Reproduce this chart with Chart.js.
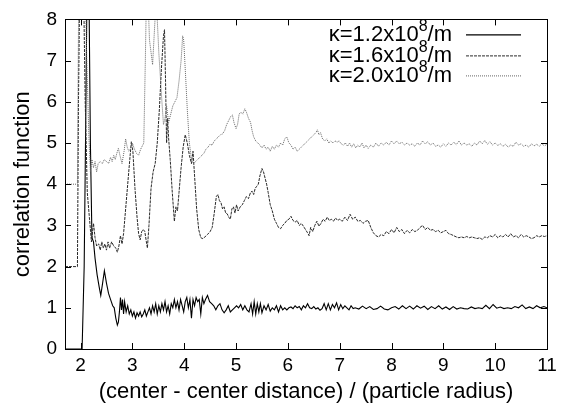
<!DOCTYPE html>
<html>
<head>
<meta charset="utf-8">
<script src="https://cdn.jsdelivr.net/npm/chart.js@4/dist/chart.umd.min.js"></script>
<style>
html,body{margin:0;padding:0;background:#fff;}
#wrap{width:564px;height:405px;position:relative;}
</style>
</head>
<body>
<div id="wrap"><canvas id="c"></canvas></div>
<script>
// ---- Data (x = center-center distance / particle radius, y = correlation function) ----
const seriesNames = ["κ=1.2x10", "κ=1.6x10", "κ=2.0x10"];
const xTicks = [2,3,4,5,6,7,8,9,10,11];
const yTicks = [0,1,2,3,4,5,6,7,8];

const k12 = [[1.7,0],[2.03,0],[2.07,2.0],[2.1,5.5],[2.13,9.5],[2.16,9.0],[2.19,5.0],[2.22,2.7],[2.25,2.6],[2.28,2.2],[2.32,1.8],[2.36,1.5],[2.39,1.3],[2.42,1.55],[2.46,1.9],[2.5,1.6],[2.54,1.35],[2.58,1.2],[2.62,1.05],[2.65,1.0],[2.68,0.75],[2.71,0.58],[2.73,0.65],[2.75,0.9],[2.77,1.25],[2.79,0.95],[2.81,1.2],[2.83,0.85],[2.85,1.15],[2.88,0.9],[2.91,1.05],[2.94,0.85],[2.97,0.95],[3.0,0.8],[3.03,0.9],[3.06,0.75],[3.09,0.88],[3.12,0.8],[3.15,0.9],[3.18,0.78],[3.21,0.85],[3.24,0.95],[3.27,0.8],[3.3,0.9],[3.33,1.0],[3.36,0.85],[3.39,1.05],[3.42,0.9],[3.45,1.1],[3.48,0.85],[3.51,1.05],[3.54,0.9],[3.57,1.1],[3.6,0.95],[3.63,1.15],[3.66,0.9],[3.69,1.05],[3.72,0.85],[3.75,1.1],[3.78,1.0],[3.81,1.2],[3.84,1.0],[3.87,1.15],[3.9,0.95],[3.93,1.2],[3.96,1.05],[3.99,0.9],[4.02,1.15],[4.05,1.25],[4.08,1.0],[4.11,1.2],[4.14,0.75],[4.17,1.2],[4.2,1.05],[4.23,1.25],[4.26,1.15],[4.29,1.2],[4.32,0.85],[4.35,1.25],[4.38,1.1],[4.41,1.2],[4.45,1.3],[4.49,1.15],[4.53,1.1],[4.57,1.05],[4.61,0.95],[4.65,1.05],[4.69,1.1],[4.73,0.95],[4.77,0.88],[4.81,0.95],[4.85,1.05],[4.89,0.9],[4.93,0.95],[4.97,1.0],[5.01,1.05],[5.05,1.0],[5.09,1.08],[5.13,0.95],[5.17,1.05],[5.21,0.95],[5.25,0.9],[5.29,1.1],[5.32,0.85],[5.35,1.15],[5.38,0.85],[5.41,1.1],[5.44,0.9],[5.47,1.1],[5.5,0.88],[5.54,1.05],[5.58,0.95],[5.62,1.08],[5.66,0.92],[5.7,1.0],[5.74,0.95],[5.78,1.05],[5.82,0.9],[5.86,1.05],[5.9,0.95],[5.94,1.0],[5.98,0.95],[6.02,1.0],[6.06,1.02],[6.1,0.98],[6.14,1.05],[6.18,1.0],[6.22,1.03],[6.26,0.95],[6.3,1.05],[6.34,1.0],[6.38,1.1],[6.42,1.0],[6.46,0.98],[6.5,1.03],[6.54,0.97],[6.58,1.0],[6.62,0.94],[6.66,0.98],[6.7,1.1],[6.74,0.95],[6.78,1.1],[6.82,0.95],[6.86,1.08],[6.9,1.0],[6.94,1.12],[6.98,0.95],[7.02,1.08],[7.06,0.98],[7.1,1.05],[7.14,1.0],[7.18,0.95],[7.22,1.05],[7.26,0.98],[7.3,1.0],[7.37,0.97],[7.44,1.04],[7.51,0.98],[7.58,1.03],[7.65,0.96],[7.72,0.98],[7.79,1.04],[7.86,0.97],[7.93,0.95],[8.0,1.0],[8.07,1.03],[8.14,0.97],[8.21,1.05],[8.28,0.98],[8.35,1.04],[8.42,0.97],[8.49,1.05],[8.56,0.99],[8.63,1.04],[8.7,0.96],[8.77,1.03],[8.84,0.98],[8.91,1.05],[8.98,0.97],[9.05,1.02],[9.12,0.96],[9.19,1.03],[9.26,0.97],[9.33,1.0],[9.4,0.98],[9.47,0.97],[9.54,1.02],[9.61,0.98],[9.68,1.0],[9.75,0.98],[9.82,1.06],[9.89,0.98],[9.96,1.08],[10.03,0.99],[10.1,1.02],[10.17,0.98],[10.24,1.0],[10.31,0.98],[10.38,1.03],[10.45,1.0],[10.52,1.07],[10.59,0.98],[10.66,1.02],[10.73,0.98],[10.8,1.05],[10.87,1.0],[10.94,1.03],[11.0,1.0]];

const k16 = [[1.7,2],[1.94,2],[1.96,6],[1.99,9.5],[2.05,9.5],[2.09,6],[2.13,3.8],[2.17,3.2],[2.21,2.6],[2.25,3.05],[2.28,2.7],[2.31,2.5],[2.35,2.55],[2.38,2.4],[2.41,2.6],[2.44,2.45],[2.47,2.55],[2.5,2.4],[2.53,2.6],[2.56,2.45],[2.6,2.6],[2.64,2.5],[2.68,2.45],[2.71,2.35],[2.74,2.5],[2.77,2.75],[2.8,2.55],[2.83,2.8],[2.87,3.4],[2.91,4.0],[2.95,4.6],[2.98,5.03],[3.01,4.8],[3.05,3.9],[3.09,3.2],[3.12,2.8],[3.15,2.65],[3.18,2.85],[3.21,2.9],[3.24,2.85],[3.27,2.6],[3.29,2.45],[3.32,3.0],[3.36,3.9],[3.4,4.3],[3.44,4.5],[3.48,5.0],[3.52,5.8],[3.56,6.8],[3.6,7.6],[3.62,7.75],[3.64,6.5],[3.66,5.0],[3.68,5.6],[3.7,5.1],[3.73,4.6],[3.77,3.8],[3.81,3.1],[3.84,3.45],[3.87,3.35],[3.9,3.8],[3.94,4.4],[3.98,4.9],[4.02,5.2],[4.06,5.0],[4.1,4.7],[4.14,4.5],[4.17,4.8],[4.2,4.2],[4.24,3.4],[4.28,2.9],[4.32,2.7],[4.36,2.68],[4.4,2.72],[4.45,2.78],[4.5,2.85],[4.54,2.95],[4.58,3.3],[4.62,3.7],[4.65,3.75],[4.68,3.6],[4.71,3.55],[4.74,3.4],[4.77,3.45],[4.8,3.3],[4.83,3.28],[4.86,3.2],[4.89,3.15],[4.92,3.4],[4.95,3.45],[4.98,3.3],[5.01,3.5],[5.04,3.35],[5.08,3.45],[5.12,3.5],[5.16,3.6],[5.2,3.7],[5.24,3.65],[5.28,3.8],[5.31,3.83],[5.34,3.75],[5.37,3.9],[5.4,3.95],[5.43,4.0],[5.46,4.2],[5.5,4.38],[5.53,4.3],[5.56,4.15],[5.59,4.0],[5.62,3.8],[5.66,3.5],[5.7,3.35],[5.74,3.15],[5.78,3.05],[5.82,2.95],[5.86,2.92],[5.9,3.0],[5.94,3.05],[5.98,3.12],[6.02,3.15],[6.06,3.22],[6.1,3.12],[6.14,3.08],[6.18,3.12],[6.22,3.0],[6.26,3.05],[6.3,2.98],[6.34,2.9],[6.38,2.82],[6.41,2.75],[6.44,2.95],[6.48,2.85],[6.52,3.0],[6.56,3.1],[6.6,2.98],[6.64,3.05],[6.68,3.15],[6.72,3.1],[6.76,3.2],[6.8,3.12],[6.84,3.15],[6.88,3.1],[6.92,3.18],[6.96,3.12],[7.0,3.15],[7.05,3.1],[7.1,3.2],[7.15,3.12],[7.2,3.27],[7.25,3.15],[7.3,3.2],[7.35,3.1],[7.4,3.12],[7.45,3.05],[7.5,3.1],[7.55,3.12],[7.6,2.95],[7.65,2.82],[7.7,2.75],[7.75,2.72],[7.8,2.78],[7.85,2.75],[7.9,2.85],[7.95,2.8],[8.0,2.9],[8.05,2.82],[8.1,2.95],[8.15,2.85],[8.2,2.9],[8.25,2.8],[8.3,2.88],[8.35,2.82],[8.4,2.9],[8.45,2.85],[8.5,2.88],[8.55,2.95],[8.6,3.0],[8.65,2.9],[8.7,2.95],[8.75,2.88],[8.8,2.9],[8.85,2.85],[8.9,2.88],[8.95,2.82],[9.0,2.85],[9.05,2.88],[9.1,2.8],[9.15,2.78],[9.2,2.75],[9.25,2.72],[9.3,2.7],[9.35,2.72],[9.4,2.7],[9.45,2.73],[9.5,2.7],[9.55,2.72],[9.6,2.7],[9.65,2.68],[9.7,2.7],[9.75,2.66],[9.8,2.72],[9.85,2.7],[9.9,2.75],[9.95,2.72],[10.0,2.78],[10.05,2.7],[10.1,2.75],[10.15,2.72],[10.2,2.78],[10.25,2.72],[10.3,2.8],[10.35,2.72],[10.4,2.75],[10.45,2.7],[10.5,2.78],[10.55,2.72],[10.6,2.75],[10.65,2.72],[10.7,2.68],[10.75,2.7],[10.8,2.75],[10.85,2.72],[10.9,2.75],[10.95,2.73],[11.0,2.75]];

const k20 = [[1.7,4],[1.94,4],[1.95,6],[1.97,9.5],[2.08,9.5],[2.12,7],[2.16,5.2],[2.19,4.3],[2.22,4.6],[2.25,4.4],[2.28,4.55],[2.31,4.3],[2.34,4.5],[2.38,4.55],[2.42,4.5],[2.46,4.6],[2.5,4.55],[2.54,4.5],[2.58,4.65],[2.61,4.55],[2.64,4.7],[2.67,4.6],[2.7,4.75],[2.73,4.87],[2.76,4.7],[2.8,4.5],[2.84,4.8],[2.87,5.1],[2.9,4.9],[2.93,4.8],[2.96,4.85],[3.0,5.0],[3.04,4.85],[3.08,4.75],[3.12,4.7],[3.16,4.85],[3.2,4.95],[3.22,5.0],[3.25,7.0],[3.27,8.5],[3.3,8.6],[3.33,7.5],[3.36,7.2],[3.39,6.9],[3.42,7.6],[3.45,8.3],[3.48,8.0],[3.51,7.2],[3.54,6.6],[3.57,6.0],[3.6,5.45],[3.63,5.6],[3.66,5.9],[3.7,5.5],[3.74,5.7],[3.78,5.9],[3.82,6.0],[3.86,6.1],[3.9,6.5],[3.94,7.0],[3.97,7.6],[3.99,7.5],[4.02,6.8],[4.06,5.8],[4.1,5.0],[4.14,4.6],[4.18,4.5],[4.22,4.55],[4.26,4.6],[4.3,4.65],[4.34,4.7],[4.38,4.75],[4.42,4.85],[4.46,4.9],[4.5,4.97],[4.54,4.95],[4.58,5.05],[4.62,5.1],[4.66,5.15],[4.7,5.2],[4.74,5.22],[4.78,5.3],[4.82,5.45],[4.86,5.55],[4.9,5.65],[4.93,5.68],[4.96,5.5],[5.0,5.35],[5.03,5.45],[5.06,5.7],[5.09,5.75],[5.13,5.7],[5.17,5.83],[5.2,5.75],[5.24,5.6],[5.28,5.5],[5.31,5.3],[5.34,5.15],[5.38,5.05],[5.42,5.0],[5.46,4.95],[5.5,4.88],[5.54,4.95],[5.58,4.85],[5.62,4.9],[5.66,4.8],[5.7,4.92],[5.74,4.85],[5.78,4.95],[5.82,4.9],[5.86,5.0],[5.9,4.95],[5.94,5.1],[5.98,5.15],[6.02,5.0],[6.06,4.95],[6.1,4.85],[6.14,4.9],[6.18,4.8],[6.22,4.85],[6.26,4.9],[6.3,4.95],[6.34,5.0],[6.38,5.05],[6.42,5.1],[6.46,5.15],[6.5,5.2],[6.54,5.25],[6.57,5.32],[6.6,5.2],[6.63,5.25],[6.67,5.1],[6.71,5.05],[6.75,5.1],[6.79,5.0],[6.83,5.05],[6.87,5.0],[6.91,5.05],[6.95,5.02],[6.99,5.05],[7.03,4.98],[7.07,4.95],[7.11,5.0],[7.15,4.92],[7.19,5.0],[7.23,4.9],[7.27,4.98],[7.31,4.88],[7.35,4.95],[7.39,4.9],[7.43,5.0],[7.47,4.88],[7.51,4.95],[7.55,4.87],[7.6,4.95],[7.65,4.9],[7.7,5.0],[7.75,4.92],[7.8,5.0],[7.85,4.95],[7.9,5.02],[7.95,4.95],[8.0,5.05],[8.05,4.98],[8.1,5.05],[8.15,4.98],[8.2,5.02],[8.25,4.95],[8.3,5.0],[8.35,4.95],[8.4,4.98],[8.45,4.92],[8.5,5.0],[8.55,4.95],[8.6,5.05],[8.65,4.98],[8.7,5.03],[8.75,4.95],[8.8,5.0],[8.85,4.92],[8.9,4.95],[8.95,4.9],[9.0,4.98],[9.05,4.92],[9.1,5.0],[9.15,4.95],[9.2,5.02],[9.25,4.96],[9.3,5.05],[9.35,4.95],[9.4,5.0],[9.45,4.95],[9.5,4.98],[9.55,4.92],[9.6,5.0],[9.65,4.95],[9.7,5.05],[9.75,4.98],[9.8,5.06],[9.85,4.97],[9.9,5.03],[9.95,4.95],[10.0,5.0],[10.05,4.94],[10.1,4.98],[10.15,4.92],[10.2,4.97],[10.25,4.9],[10.3,4.95],[10.35,4.92],[10.4,5.02],[10.45,4.95],[10.5,4.98],[10.55,4.92],[10.6,4.95],[10.65,4.9],[10.7,4.98],[10.75,4.93],[10.8,4.97],[10.85,4.92],[10.9,4.98],[10.95,4.93],[11.0,4.97]];

const FONT = "'Liberation Sans', Arial, sans-serif";
const toPts = arr => arr.map(p => ({x: p[0], y: p[1]}));

const styles = [
  {color:'#000000', width:1.1, dash:[]},
  {color:'#2a2a2a', width:1, dash:[3,1]},
  {color:'#666666', width:1, dash:[1,1]}
];

// frame + inward ticks on all four sides (gnuplot style), plus legend
const framePlugin = {
  id: 'frame',
  afterDatasetsDraw(chart) {
    const {ctx, chartArea: a, scales: {x, y}} = chart;
    ctx.save();
    ctx.strokeStyle = '#000';
    ctx.lineWidth = 1;
    ctx.setLineDash([]);
    ctx.strokeRect(Math.round(a.left)+0.5, Math.round(a.top)+0.5, Math.round(a.right-a.left), Math.round(a.bottom-a.top));
    const L = 6;
    ctx.beginPath();
    xTicks.forEach(v => {
      const px = Math.round(x.getPixelForValue(v)) + 0.5;
      ctx.moveTo(px, a.bottom); ctx.lineTo(px, a.bottom - L);
      ctx.moveTo(px, a.top); ctx.lineTo(px, a.top + L);
    });
    yTicks.forEach(v => {
      const py = Math.round(y.getPixelForValue(v)) + 0.5;
      ctx.moveTo(a.left, py); ctx.lineTo(a.left + L, py);
      ctx.moveTo(a.right, py); ctx.lineTo(a.right - L, py);
    });
    ctx.stroke();

    const textRight = a.right - 95;
    const lineL = a.right - 81, lineR = a.right - 26;
    const rows = [a.top + 15, a.top + 36, a.top + 56];
    const big = '22px ' + FONT, small = '16px ' + FONT;
    seriesNames.forEach((name, i) => {
      const yy = rows[i];
      ctx.font = big;
      const w1 = ctx.measureText(name).width;
      const w3 = ctx.measureText('/m').width;
      ctx.font = small;
      const w2 = ctx.measureText('8').width;
      let xx = textRight - (w1 + w2 + w3);
      ctx.fillStyle = '#000';
      ctx.textBaseline = 'middle';
      ctx.textAlign = 'left';
      ctx.font = big;
      ctx.fillText(name, xx, yy + 1); xx += w1;
      ctx.font = small;
      ctx.fillText('8', xx, yy - 8); xx += w2;
      ctx.font = big;
      ctx.fillText('/m', xx, yy + 1);
      const s = styles[i];
      ctx.strokeStyle = s.color; ctx.lineWidth = s.width; ctx.setLineDash(s.dash);
      ctx.beginPath(); ctx.moveTo(lineL, yy + 0.5); ctx.lineTo(lineR, yy + 0.5); ctx.stroke();
    });
    ctx.restore();
  }
};

const sets = [k12, k16, k20];
new Chart(document.getElementById('c'), {
  type: 'line',
  data: {
    datasets: sets.map((s, i) => ({
      label: seriesNames[i] + '8/m',
      data: toPts(s),
      borderColor: styles[i].color,
      borderWidth: styles[i].width,
      borderDash: styles[i].dash,
      pointRadius: 0,
      tension: 0,
      fill: false
    })).reverse()
  },
  options: {
    responsive: true,
    maintainAspectRatio: false,
    animation: false,
    layout: {padding: {top: 17, right: 17, left: 0, bottom: 0}},
    plugins: {legend: {display: false}, tooltip: {enabled: false}},
    scales: {
      x: {
        type: 'linear', min: 1.7, max: 11,
        afterBuildTicks: sc => { sc.ticks = xTicks.map(v => ({value: v})); },
        afterFit: sc => { sc.height = 56; },
        grid: {display: false, drawTicks: false},
        border: {display: false},
        ticks: {color: '#000', font: {family: FONT, size: 19}, padding: 5, maxRotation: 0},
        title: {display: true, text: '(center - center distance) / (particle radius)', color: '#000', font: {family: FONT, size: 22}, padding: {top: 0, bottom: 0}}
      },
      y: {
        type: 'linear', min: 0, max: 8,
        afterBuildTicks: sc => { sc.ticks = yTicks.map(v => ({value: v})); },
        afterFit: sc => { sc.width = 65; },
        grid: {display: false, drawTicks: false},
        border: {display: false},
        ticks: {color: '#000', font: {family: FONT, size: 19}, padding: 8},
        title: {display: true, text: 'correlation function', color: '#000', font: {family: FONT, size: 22}, padding: {top: 10, bottom: 0}}
      }
    }
  },
  plugins: [framePlugin]
});
</script>
</body>
</html>
